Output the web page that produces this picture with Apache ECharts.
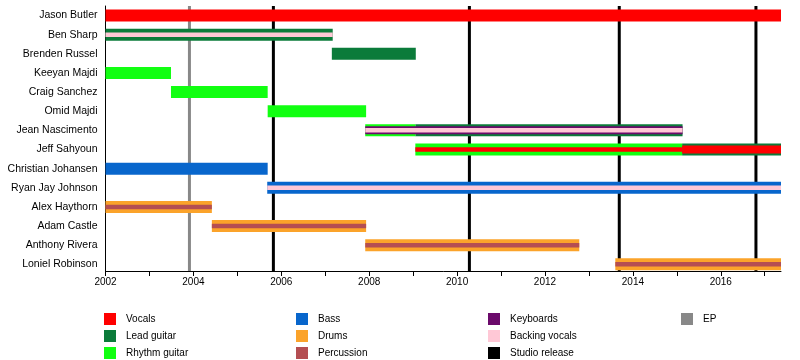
<!DOCTYPE html>
<html><head><meta charset="utf-8">
<script src="https://cdn.jsdelivr.net/npm/echarts@6/dist/echarts.min.js"></script>
<style>html,body{margin:0;padding:0;background:#fff}#c{width:800px;height:360px}</style>
</head><body><div id="c"></div>
<script>
const END = 2017.37;
const members = ['Jason Butler','Ben Sharp','Brenden Russel','Keeyan Majdi','Craig Sanchez','Omid Majdi','Jean Nascimento','Jeff Sahyoun','Christian Johansen','Ryan Jay Johnson','Alex Haythorn','Adam Castle','Anthony Rivera','Loniel Robinson'];
const roleNames = ['Vocals','Lead guitar','Rhythm guitar','Bass','Drums','Percussion','Keyboards','Backing vocals'];
// main roles (full bars): [member, role, start, end]
const mainRoles = [
  ['Jason Butler','Vocals',2002,END],
  ['Ben Sharp','Lead guitar',2002,2007.17],
  ['Brenden Russel','Lead guitar',2007.15,2009.06],
  ['Keeyan Majdi','Rhythm guitar',2002,2003.49],
  ['Craig Sanchez','Rhythm guitar',2003.49,2005.69],
  ['Omid Majdi','Rhythm guitar',2005.69,2007.93],
  ['Jean Nascimento','Rhythm guitar',2007.91,2009.05],
  ['Jean Nascimento','Lead guitar',2009.05,2015.13],
  ['Jeff Sahyoun','Rhythm guitar',2009.05,2015.12],
  ['Jeff Sahyoun','Lead guitar',2015.12,END],
  ['Christian Johansen','Bass',2002,2005.69],
  ['Ryan Jay Johnson','Bass',2005.68,END],
  ['Alex Haythorn','Drums',2002,2004.42],
  ['Adam Castle','Drums',2004.42,2007.93],
  ['Anthony Rivera','Drums',2007.91,2012.78],
  ['Loniel Robinson','Drums',2013.6,END]
];
// secondary roles
const secondRoles = [
  ['Jean Nascimento','Keyboards',2007.91,2015.13],
  ['Jeff Sahyoun','Vocals',2015.12,END]
];
// tertiary roles
const thirdRoles = [
  ['Ben Sharp','Backing vocals',2002,2007.17],
  ['Jean Nascimento','Backing vocals',2007.91,2015.13],
  ['Jeff Sahyoun','Vocals',2009.05,2015.12],
  ['Ryan Jay Johnson','Backing vocals',2005.68,END],
  ['Alex Haythorn','Percussion',2002,2004.42],
  ['Adam Castle','Percussion',2004.42,2007.93],
  ['Anthony Rivera','Percussion',2007.91,2012.78],
  ['Loniel Robinson','Percussion',2013.6,END]
];
const studioReleases = [2005.82, 2010.28, 2013.69, 2016.80];
const epReleases = [2003.91];
const yearTicks = [2002,2003,2004,2005,2006,2007,2008,2009,2010,2011,2012,2013,2014,2015,2016,2017];
const yearLabels = [2002,2004,2006,2008,2010,2012,2014,2016];

const colors = {
  'Vocals':'#ff0000','Lead guitar':'#0b7b3a','Rhythm guitar':'#11ff11','Bass':'#0866cc',
  'Drums':'#fba32a','Percussion':'#b44e52','Keyboards':'#6b0a6b','Backing vocals':'#ffc8d6',
  'Studio release':'#000000','EP':'#888888'
};
const heights = [12, 8, 4.5];
const FONT = '"Liberation Sans", Arial, sans-serif';

const series = [];
function lineSeries(name, vals){
  return {
    name, type:'custom', z:1, itemStyle:{color:colors[name]},
    encode:{x:0,y:1}, data: vals.map(v=>[v,0]),
    renderItem(params, api){
      const x = api.coord([api.value(0),0])[0];
      const cs = params.coordSys;
      return {type:'line', shape:{x1:x,y1:cs.y,x2:x,y2:cs.y+cs.height},
        style:{stroke:api.visual('color'), lineWidth:3}};
    }
  };
}
series.push(lineSeries('Studio release', studioReleases));
series.push(lineSeries('EP', epReleases));
[mainRoles, secondRoles, thirdRoles].forEach((layer, L)=>{
  roleNames.forEach(role=>{
    const items = layer.filter(d=>d[1]===role);
    if(!items.length) return;
    series.push({
      name: role, type:'custom', z: 3+L, itemStyle:{color:colors[role]},
      encode:{x:[0,1], y:2},
      data: items.map(d=>[d[2], d[3], members.indexOf(d[0])]),
      renderItem(params, api){
        const s = api.coord([api.value(0), api.value(2)]);
        const e = api.coord([api.value(1), api.value(2)]);
        const h = heights[L];
        return {type:'rect', shape:{x:s[0], y:s[1]-h/2, width:e[0]-s[0], height:h},
          style:{fill: api.visual('color')}};
      }
    });
  });
});

function legendCol(left, data){
  return {left, top:313, orient:'vertical', itemGap:5, itemWidth:12, itemHeight:12,
    icon:'rect', selectedMode:false, padding:0, data,
    textStyle:{fontSize:10, color:'#000', fontFamily:FONT, padding:[0,0,0,5]}};
}

const chart = echarts.init(document.getElementById('c'), null, {renderer:'canvas'});
chart.setOption({
  backgroundColor:'#fff',
  animation:false,
  grid:{left:105.5, right:19, top:6, bottom:89},
  xAxis:{type:'value', min:2002, max:END,
    axisLine:{onZero:false, lineStyle:{color:'#000', width:1}},
    axisTick:{customValues:yearTicks, length:5, lineStyle:{color:'#000'}},
    axisLabel:{customValues:yearLabels, formatter:v=>String(v), fontSize:10, color:'#000', fontFamily:FONT, margin:6},
    splitLine:{show:false}},
  yAxis:{type:'value', inverse:true, min:-0.5, max:13.35,
    axisLine:{show:true, onZero:false, lineStyle:{color:'#000', width:1}},
    axisTick:{show:false},
    axisLabel:{customValues:members.map((m,i)=>i), formatter:v=>members[v], fontSize:10.5, color:'#000', fontFamily:FONT, margin:8},
    splitLine:{show:false}},
  legend:[
    legendCol(104, ['Vocals','Lead guitar','Rhythm guitar']),
    legendCol(296, ['Bass','Drums','Percussion']),
    legendCol(488, ['Keyboards','Backing vocals','Studio release']),
    legendCol(681, ['EP'])
  ],
  series
});
</script></body></html>
